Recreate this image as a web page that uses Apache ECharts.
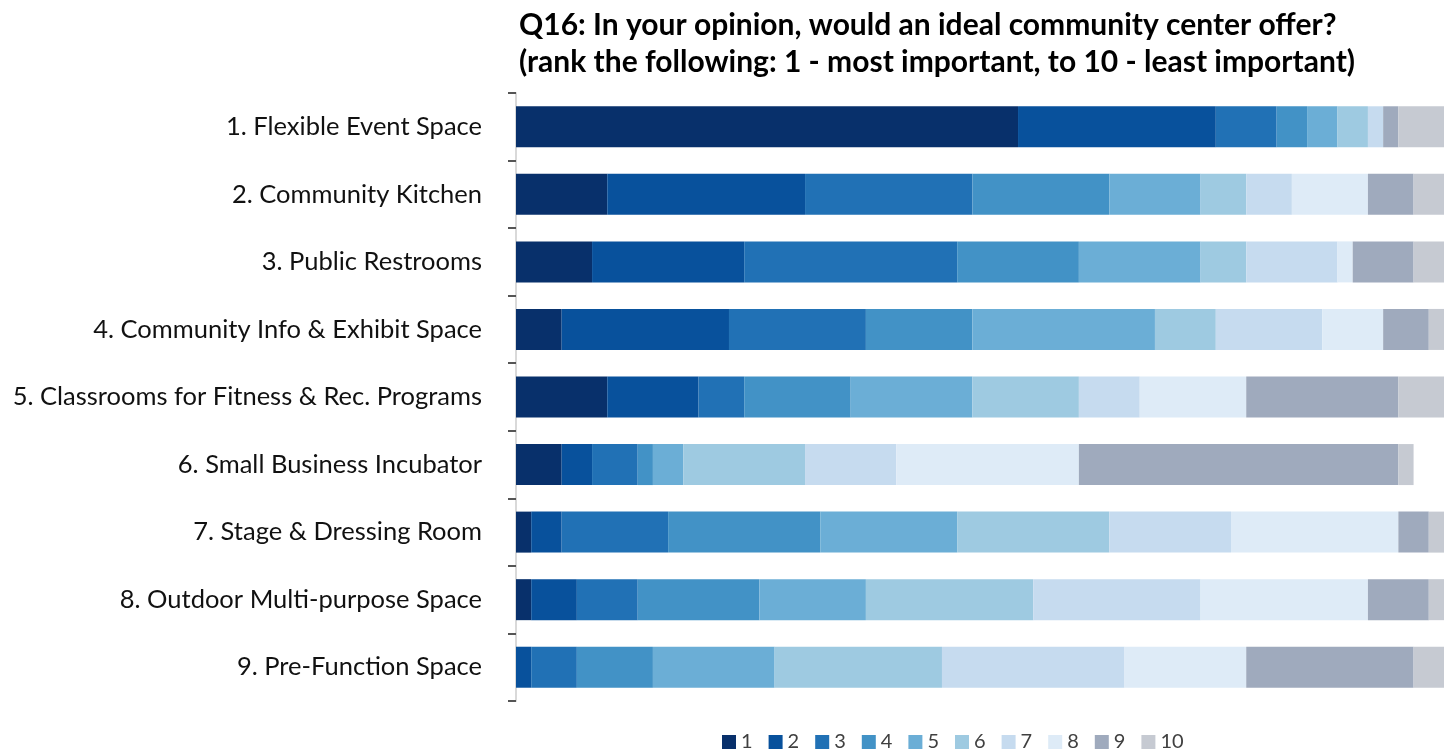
<!DOCTYPE html>
<html>
<head>
<meta charset="utf-8">
<script src="https://cdn.jsdelivr.net/npm/echarts@6/dist/echarts.min.js"></script>
<style>
  html, body { margin: 0; padding: 0; background: #ffffff; }
  #chart { width: 1444px; height: 751px; }
</style>
</head>
<body>
<div id="chart"></div>
<script>
// Survey question Q16: number of respondents giving each rank to each amenity
const categories = [
  '1. Flexible Event Space',
  '2. Community Kitchen',
  '3. Public Restrooms',
  '4. Community Info & Exhibit Space',
  '5. Classrooms for Fitness & Rec. Programs',
  '6. Small Business Incubator',
  '7. Stage & Dressing Room',
  '8. Outdoor Multi-purpose Space',
  '9. Pre-Function Space'
];

const rankNames = ['1', '2', '3', '4', '5', '6', '7', '8', '9', '10'];

const rank1  = [33, 6, 5, 3, 6, 3, 1, 1, 0];
const rank2  = [13, 13, 10, 11, 6, 2, 2, 3, 1];
const rank3  = [4, 11, 14, 9, 3, 3, 7, 4, 3];
const rank4  = [2, 9, 8, 7, 7, 1, 10, 8, 5];
const rank5  = [2, 6, 8, 12, 8, 2, 9, 7, 8];
const rank6  = [2, 3, 3, 4, 7, 8, 10, 11, 11];
const rank7  = [1, 3, 6, 7, 4, 6, 8, 11, 12];
const rank8  = [0, 5, 1, 4, 7, 12, 11, 11, 8];
const rank9  = [1, 3, 4, 3, 10, 21, 2, 4, 11];
const rank10 = [3, 2, 2, 1, 3, 1, 1, 1, 2];

const rankValues = [rank1, rank2, rank3, rank4, rank5, rank6, rank7, rank8, rank9, rank10];

const rankColors = [
  '#08306b', '#08519c', '#2171b5', '#4292c6', '#6baed6',
  '#9ecae1', '#c6dbef', '#deebf7', '#9faabd', '#c6cad2'
];

const fontFamily = 'Lato, "Open Sans", sans-serif';

const chart = echarts.init(document.getElementById('chart'), null, { renderer: 'canvas' });

chart.setOption({
  backgroundColor: '#ffffff',
  animation: false,
  color: rankColors,
  title: {
    text: 'Q16: In your opinion, would an ideal community center offer?\n(rank the following: 1 - most important, to 10 - least important)',
    left: 514,
    top: 2,
    textStyle: {
      fontFamily: fontFamily,
      fontWeight: 'bold',
      fontSize: 30,
      lineHeight: 37,
      color: '#000000'
    }
  },
  legend: {
    data: rankNames,
    left: 717,
    top: 727,
    itemWidth: 14,
    itemHeight: 14,
    itemGap: 16,
    icon: 'rect',
    textStyle: { fontFamily: fontFamily, fontSize: 20, color: '#404040' }
  },
  grid: {
    left: 516,
    top: 93,
    width: 932,
    height: 608,
    containLabel: false
  },
  xAxis: {
    type: 'value',
    min: 0,
    max: 61,
    show: false
  },
  yAxis: {
    type: 'category',
    data: categories,
    inverse: true,
    axisLine: { show: true, lineStyle: { color: '#d9d9d9', width: 2 } },
    axisTick: { show: true, length: 8, lineStyle: { color: '#555555', width: 2 } },
    axisLabel: {
      margin: 34,
      fontFamily: fontFamily,
      fontSize: 25.5,
      color: '#111111'
    },
    splitLine: { show: false }
  },
  series: rankNames.map((name, i) => ({
    name: name,
    type: 'bar',
    stack: 'rank',
    barWidth: 41,
    data: rankValues[i],
    itemStyle: { color: rankColors[i] },
    emphasis: { disabled: true }
  }))
});
</script>
</body>
</html>
